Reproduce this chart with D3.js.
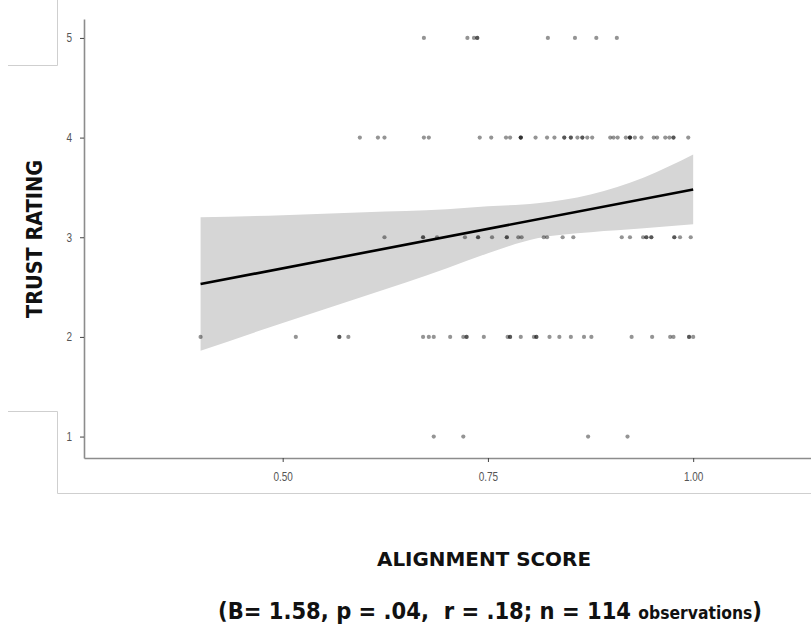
<!DOCTYPE html>
<html>
<head>
<meta charset="utf-8">
<script src="https://cdn.jsdelivr.net/npm/d3@7"></script>
<style>
  body { margin: 0; background: #fff; }
  svg { display: block; }
  .cond { font-family: 'DejaVu Sans Condensed', 'DejaVu Sans', sans-serif; font-stretch: condensed; }
</style>
</head>
<body>
<div class="chart"></div>
<script>
// Alignment scores of the observations, one list per trust rating
var rating5 = [0.672, 0.725, 0.733, 0.737, 0.737, 0.823, 0.856, 0.882, 0.907];
var rating4 = [0.594, 0.616, 0.624, 0.672, 0.678, 0.740, 0.754, 0.772, 0.777, 0.790, 0.790, 0.790,
    0.808, 0.822, 0.831, 0.843, 0.843, 0.851, 0.851, 0.859, 0.865, 0.865, 0.871, 0.877, 0.899, 0.903,
    0.908, 0.918, 0.923, 0.923, 0.923, 0.929, 0.937, 0.952, 0.956, 0.966, 0.971, 0.976, 0.976, 0.994];
var rating3 = [0.624, 0.671, 0.671, 0.688, 0.722, 0.738, 0.738, 0.755, 0.773, 0.773, 0.787, 0.791,
    0.818, 0.822, 0.841, 0.854, 0.913, 0.923, 0.939, 0.943, 0.943, 0.949, 0.949, 0.977, 0.977, 0.984, 0.997];
var rating2 = [0.400, 0.516, 0.569, 0.569, 0.580, 0.671, 0.678, 0.684, 0.704, 0.720, 0.724, 0.724,
    0.745, 0.774, 0.777, 0.777, 0.790, 0.806, 0.809, 0.809, 0.825, 0.837, 0.851, 0.867, 0.876, 0.925,
    0.950, 0.972, 0.976, 0.995, 0.995, 1.000];
var rating1 = [0.684, 0.720, 0.872, 0.920];
var ratings = [5, 4, 3, 2, 1];

// Fitted line and its confidence band
var fitX = [0.40, 1.00];
var fitY = [2.53, 3.48];
var bandX = [0.40, 0.50, 0.60, 0.70, 0.75, 0.81, 0.875, 0.94, 1.00];
var bandLow = [1.86, 2.14, 2.41, 2.69, 2.84, 2.99, 3.05, 3.09, 3.13];
var bandHigh = [3.20, 3.22, 3.25, 3.28, 3.31, 3.34, 3.43, 3.60, 3.83];

var xTicks = [0.50, 0.75, 1.00];
var yTicks = [1, 2, 3, 4, 5];

var width = 811;
var height = 626;

var svg = d3.select("div.chart")
    .append("svg")
    .attr("width", width)
    .attr("height", height);

var x = d3.scaleLinear()
    .domain([0.258, 1.1435])
    .range([84, 811]);
var y = d3.scaleLinear()
    .domain([0.785, 5.19])
    .range([458, 19]);

// Light frame lines that sit around the plot in the original screenshot
var frame = svg.append("g")
    .attr("fill", "none")
    .attr("stroke", "#cfcfcf")
    .attr("stroke-width", 1);
frame.append("path").attr("d", "M57.5,0 V65.5 H8");
frame.append("path").attr("d", "M8,411.5 H57.5 V493.5 H811");

// Confidence band
var band = bandX.map((d, i) => ({ x: d, lo: bandLow[i], hi: bandHigh[i] }));
svg.append("path")
    .datum(band)
    .attr("fill", "#d6d6d6")
    .attr("d", d3.area()
        .curve(d3.curveMonotoneX)
        .x(d => x(d.x))
        .y0(d => y(d.lo))
        .y1(d => y(d.hi)));

// Points
var points = [];
[rating5, rating4, rating3, rating2, rating1].forEach((arr, i) => {
    arr.forEach(s => points.push({ score: s, rating: ratings[i] }));
});
svg.append("g")
    .selectAll("circle")
    .data(points)
    .join("circle")
      .attr("cx", d => x(d.score))
      .attr("cy", d => y(d.rating))
      .attr("r", 2.1)
      .attr("fill", "#000")
      .attr("fill-opacity", 0.42);

// Regression line
svg.append("path")
    .datum(fitX.map((d, i) => [d, fitY[i]]))
    .attr("fill", "none")
    .attr("stroke", "#000")
    .attr("stroke-width", 2.6)
    .attr("d", d3.line().x(d => x(d[0])).y(d => y(d[1])));

// Axes - tick labels are squeezed a bit to look like the narrow face of the original
var tickText = g => g.selectAll(".tick text")
    .attr("fill", "#555")
    .style("font-family", "'Liberation Sans', Arial, sans-serif")
    .style("font-size", "12.5px");
var xAxis = g => g
    .attr("transform", `translate(0,${y.range()[0]})`)
    .call(d3.axisBottom(x).tickValues(xTicks).tickFormat(d3.format(".2f"))
        .tickSize(4).tickSizeOuter(0).tickPadding(10))
    .call(g => g.select(".domain").attr("stroke", "#8c8c8c").attr("stroke-width", 1.6))
    .call(g => g.selectAll(".tick line").attr("stroke", "#444"))
    .call(tickText)
    .call(g => g.selectAll(".tick text").attr("transform", "scale(0.8,1)"));
var yAxis = g => g
    .attr("transform", `translate(${x.range()[0]},0)`)
    .call(d3.axisLeft(y).tickValues(yTicks).tickFormat(d3.format("d"))
        .tickSize(4).tickSizeOuter(0).tickPadding(8))
    .call(g => g.select(".domain").attr("stroke", "#8c8c8c").attr("stroke-width", 1.6))
    .call(g => g.selectAll(".tick line").attr("stroke", "#444"))
    .call(tickText)
    .call(g => g.selectAll(".tick text").attr("x", -12 / 0.8).attr("transform", "scale(0.8,1)"));
svg.append("g").call(xAxis);
svg.append("g").call(yAxis);

// Axis titles
svg.append("text")
    .attr("class", "cond")
    .attr("transform", "translate(42,239) rotate(-90)")
    .attr("text-anchor", "middle")
    .attr("font-weight", "bold")
    .attr("font-size", 21)
    .attr("fill", "#111")
    .attr("textLength", 158)
    .attr("lengthAdjust", "spacingAndGlyphs")
    .text("TRUST RATING");

svg.append("text")
    .attr("class", "cond")
    .attr("x", 484)
    .attr("y", 566)
    .attr("text-anchor", "middle")
    .attr("font-weight", "bold")
    .attr("font-size", 19)
    .attr("fill", "#111")
    .attr("textLength", 214)
    .attr("lengthAdjust", "spacingAndGlyphs")
    .text("ALIGNMENT SCORE");

var stats = svg.append("text")
    .attr("class", "cond")
    .attr("x", 218)
    .attr("y", 619)
    .attr("font-weight", "bold")
    .attr("fill", "#111")
    .attr("textLength", 544)
    .attr("lengthAdjust", "spacingAndGlyphs")
    .style("white-space", "pre");
stats.append("tspan").attr("font-size", 23).text("(B= 1.58, p = .04,  r = .18; n = 114 ");
stats.append("tspan").attr("font-size", 17).text("observations");
stats.append("tspan").attr("font-size", 23).text(")");
</script>
</body>
</html>
